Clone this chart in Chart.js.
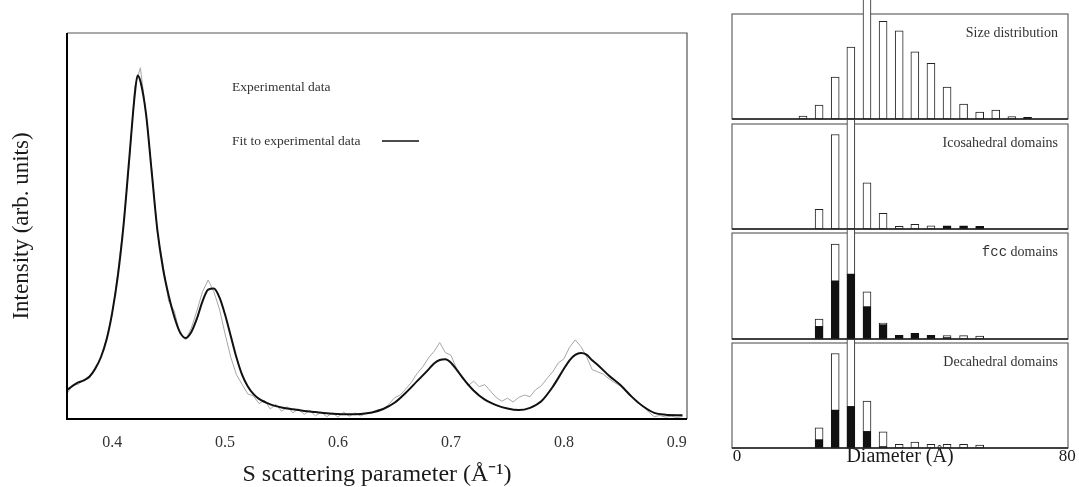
<!DOCTYPE html>
<html>
<head>
<meta charset="utf-8">
<script src="https://cdn.jsdelivr.net/npm/chart.js@4.4.0/dist/chart.umd.min.js"></script>
<style>
  body { margin: 0; background: #fff; }
  #wrap { position: relative; width: 1079px; height: 487px; }
  canvas { position: absolute; }
</style>
</head>
<body>
<div id="wrap">
  <canvas id="scatter" style="left:0;top:0" width="700" height="487"></canvas>
  <canvas id="panel0" style="left:700px;top:0" width="379" height="121"></canvas>
  <canvas id="panel1" style="left:700px;top:120px" width="379" height="111"></canvas>
  <canvas id="panel2" style="left:700px;top:230px" width="379" height="111"></canvas>
  <canvas id="panel3" style="left:700px;top:340px" width="379" height="147"></canvas>
</div>
<script>
// scattering curve (left)
const xTickValues = [0.4, 0.5, 0.6, 0.7, 0.8, 0.9];

const fitS = [0.36, 0.365, 0.37, 0.375, 0.38, 0.385, 0.39, 0.395, 0.40, 0.405,
  0.41, 0.415, 0.42, 0.4225, 0.425, 0.43, 0.435, 0.44, 0.445, 0.45,
  0.455, 0.46, 0.465, 0.47, 0.475, 0.48, 0.485, 0.49, 0.495, 0.50,
  0.505, 0.51, 0.515, 0.52, 0.525, 0.53, 0.54, 0.55, 0.56, 0.57,
  0.58, 0.59, 0.60, 0.61, 0.62, 0.63, 0.64, 0.65, 0.66, 0.67,
  0.68, 0.685, 0.69, 0.695, 0.70, 0.705, 0.71, 0.72, 0.73, 0.74,
  0.75, 0.76, 0.77, 0.78, 0.79, 0.80, 0.805, 0.81, 0.815, 0.82,
  0.825, 0.83, 0.84, 0.85, 0.86, 0.87, 0.88, 0.89, 0.90, 0.905];
const fitI = [7.5, 8.6, 9.5, 10, 11, 13, 16, 20.5, 27.5, 37,
  50, 67, 84, 89, 87.5, 79, 64, 49, 39, 32,
  26.5, 22.5, 21, 22.5, 26, 30.5, 33.5, 33.8, 31.5, 27,
  21.5, 16, 11.5, 8.5, 6.5, 5.2, 3.8, 3.0, 2.5, 2.1,
  1.8, 1.5, 1.3, 1.2, 1.3, 1.7, 2.6, 4.2, 6.8, 9.8,
  12.8, 14.4, 15.3, 15.5, 14.6, 12.8, 10.8, 7.4, 5.0, 3.6,
  2.7, 2.3, 2.9, 4.6, 8.3, 13, 15.2, 16.6, 17.1, 16.7,
  15.2, 14, 11.2, 8.8, 5.8, 3.3, 1.6, 1.1, 1.0, 1.0];

const expS = [0.360, 0.365, 0.370, 0.375, 0.380, 0.385, 0.390, 0.395, 0.400, 0.405,
  0.410, 0.415, 0.420, 0.425, 0.430, 0.435, 0.440, 0.445, 0.450, 0.455,
  0.460, 0.465, 0.470, 0.475, 0.480, 0.485, 0.490, 0.495, 0.500, 0.505,
  0.510, 0.515, 0.520, 0.525, 0.530, 0.535, 0.540, 0.545, 0.550, 0.555,
  0.560, 0.565, 0.570, 0.575, 0.580, 0.585, 0.590, 0.595, 0.600, 0.605,
  0.610, 0.615, 0.620, 0.625, 0.630, 0.635, 0.640, 0.645, 0.650, 0.655,
  0.660, 0.665, 0.670, 0.675, 0.680, 0.685, 0.690, 0.695, 0.700, 0.705,
  0.710, 0.715, 0.720, 0.725, 0.730, 0.735, 0.740, 0.745, 0.750, 0.755,
  0.760, 0.765, 0.770, 0.775, 0.780, 0.785, 0.790, 0.795, 0.800, 0.805,
  0.810, 0.815, 0.820, 0.825, 0.830, 0.835, 0.840, 0.845, 0.850, 0.855,
  0.860, 0.865, 0.870, 0.875, 0.880, 0.885, 0.890, 0.895, 0.900, 0.905];
const expI = [6.5, 8.8, 9.0, 10.2, 10.6, 13.5, 15.8, 21, 27, 38,
  50.5, 66, 86, 91, 79, 65, 48.5, 40, 30.5, 28,
  22, 20.5, 23.5, 28, 33, 36, 33, 28.5, 22, 16,
  11.5, 9, 6.5, 6, 4, 4.8, 2.6, 3.8, 2, 3.2,
  1.6, 2.6, 1.2, 2.2, 0.8, 1.8, 0.6, 1.6, 0.5, 1.8,
  0.7, 1.6, 0.8, 1.5, 1.6, 2.4, 2.6, 3.8, 5.5, 6.2,
  7.8, 9.5, 11.8, 13.5, 15.8, 17.5, 19.8, 17.2, 16.5, 13,
  11.2, 8.6, 9.8, 8.4, 8.9, 7.2, 5.6, 4.6, 5.4, 4.4,
  5.6, 6.2, 5.8, 7.6, 8.6, 10.5, 12.2, 14.5, 15.6, 18.6,
  20.5, 18.8, 16.2, 12.8, 12.2, 11.6, 10.4, 9.4, 8.6, 7.2,
  5.6, 4.2, 3.4, 1.8, 0.6, 0.9, 0.5, 0.7, 0.4, 0.6];

// size histograms (right)
const diameters = [16, 19.9, 23.8, 27.6, 31.5, 35.4, 39.3, 43.1, 47, 50.9, 54.9, 58.8, 62.7, 66.6, 70.4];
const diamTicks = [0, 80];

const sizeOpen   = [2.9, 13.3, 40, 68.6, 115, 93, 84, 64, 53, 30.5, 14.3, 6.7, 8.6, 2.2, null];
const sizeFilled = [null, null, null, null, null, null, null, null, null, null, null, null, null, null, 1.5];
const icoOpen    = [null, 18.8, 90, 115, 44, 15, 2.5, 4.5, 3, null, null, null, null, null, null];
const icoFilled  = [null, null, null, null, null, null, null, null, null, 3, 3, 2.5, null, null, null];
const fccFilled  = [null, 11.7, 54.6, 61, 30.2, 13.3, 3.5, 5.4, 3.5, 1, null, null, null, null, null];
const fccOpen    = [null, 7, 35, 54, 14.3, 1.7, null, null, null, 2.3, 3.2, 2.8, null, null, null];
const decFilled  = [null, 7.6, 35.9, 39.3, 15.5, 1, null, null, null, null, null, null, null, null, null];
const decOpen    = [null, 11.7, 54.1, 75.7, 29.3, 14.5, 3.5, 5.7, 3.5, 3.5, 3.5, 2.8, null, null, null];

const panelTitles = ['Size distribution', 'Icosahedral domains', 'fcc domains', 'Decahedral domains'];

const serif = '"Liberation Serif", "Times New Roman", serif';
const ink = '#1a1a1a';

const toPts = (xs, ys) => xs.map((x, i) => ({ x: x, y: ys[i] }));

// frame + legend for the scattering plot
const scatterDecor = {
  id: 'scatterDecor',
  afterDatasetsDraw(chart) {
    const { ctx, chartArea: a } = chart;
    ctx.save();
    ctx.strokeStyle = '#555';
    ctx.lineWidth = 1.2;
    ctx.beginPath();
    ctx.moveTo(a.left, a.top); ctx.lineTo(a.right, a.top); ctx.lineTo(a.right, a.bottom);
    ctx.stroke();
    ctx.strokeStyle = '#000';
    ctx.lineWidth = 2;
    ctx.beginPath();
    ctx.moveTo(a.left, a.top); ctx.lineTo(a.left, a.bottom); ctx.lineTo(a.right, a.bottom);
    ctx.stroke();

    ctx.fillStyle = '#333';
    ctx.font = '13.5px ' + serif;
    ctx.textBaseline = 'middle';
    ctx.textAlign = 'left';
    ctx.fillText('Experimental data', 232, 87);
    ctx.fillText('Fit to experimental data', 232, 141);
    ctx.strokeStyle = '#111';
    ctx.lineWidth = 1.6;
    ctx.beginPath();
    ctx.moveTo(382, 141); ctx.lineTo(419, 141);
    ctx.stroke();
    ctx.restore();
  }
};

new Chart(document.getElementById('scatter'), {
  type: 'line',
  data: {
    datasets: [
      {
        label: 'Experimental data',
        data: toPts(expS, expI),
        borderColor: '#a6a6a6',
        borderWidth: 1,
        pointRadius: 0,
        tension: 0,
        order: 1
      },
      {
        label: 'Fit to experimental data',
        data: toPts(fitS, fitI),
        borderColor: '#111',
        borderWidth: 2,
        pointRadius: 0,
        cubicInterpolationMode: 'monotone',
        order: 0
      }
    ]
  },
  options: {
    responsive: false,
    animation: false,
    layout: { padding: { left: 10, right: 13, top: 33, bottom: 0 } },
    plugins: { legend: { display: false }, tooltip: { enabled: false } },
    scales: {
      x: {
        type: 'linear',
        min: 0.36,
        max: 0.909,
        grid: { display: false },
        border: { display: false },
        afterBuildTicks: (s) => { s.ticks = xTickValues.map((v) => ({ value: v })); },
        afterFit: (s) => { s.height = 68; },
        ticks: {
          padding: 6,
          color: '#333',
          maxRotation: 0,
          font: { family: serif, size: 16 },
          callback: (v) => Number(v).toFixed(1)
        },
        title: {
          display: true,
          text: 'S scattering parameter (Å⁻¹)',
          color: ink,
          font: { family: serif, size: 24, lineHeight: 1 },
          padding: { top: 0, bottom: 0 }
        }
      },
      y: {
        min: 0,
        max: 100,
        grid: { display: false },
        border: { display: false },
        ticks: { display: false },
        afterFit: (s) => { s.width = 57; },
        title: {
          display: true,
          text: 'Intensity (arb. units)',
          color: ink,
          font: { family: serif, size: 23, lineHeight: 1 },
          padding: 0
        }
      }
    }
  },
  plugins: [scatterDecor]
});

// one chart per histogram panel
function panelDecor(title) {
  return {
    id: 'panelDecor',
    beforeDatasetsDraw(chart) {
      const { ctx, chartArea: a } = chart;
      ctx.save();
      ctx.strokeStyle = '#555';
      ctx.lineWidth = 1.1;
      ctx.strokeRect(a.left, a.top, a.right - a.left, a.bottom - a.top);
      ctx.restore();
    },
    afterDraw(chart) {
      const { ctx, chartArea: a } = chart;
      ctx.save();
      ctx.strokeStyle = '#222';
      ctx.lineWidth = 1.6;
      ctx.beginPath();
      ctx.moveTo(a.left, a.bottom); ctx.lineTo(a.right, a.bottom);
      ctx.stroke();
      // label, "fcc" set in typewriter face
      const parts = title.startsWith('fcc')
        ? [['fcc', '14px "Liberation Mono", monospace'], [title.slice(3), '14px ' + serif]]
        : [[title, '14px ' + serif]];
      let w = 0;
      parts.forEach(([t, f]) => { ctx.font = f; w += ctx.measureText(t).width; });
      let x = a.right - 10 - w;
      const y = a.top + 19.5;
      ctx.fillStyle = '#333';
      ctx.textBaseline = 'middle';
      ctx.textAlign = 'left';
      parts.forEach(([t, f]) => { ctx.font = f; ctx.fillText(t, x, y); x += ctx.measureText(t).width; });
      ctx.restore();
    }
  };
}

const panels = [
  { id: 'panel0', filled: sizeFilled, open: sizeOpen, pad: { left: 32, right: 11, top: 14, bottom: 2 } },
  { id: 'panel1', filled: icoFilled, open: icoOpen, pad: { left: 32, right: 11, top: 4, bottom: 2 } },
  { id: 'panel2', filled: fccFilled, open: fccOpen, pad: { left: 32, right: 11, top: 3, bottom: 2 } },
  { id: 'panel3', filled: decFilled, open: decOpen, pad: { left: 32, right: 11, top: 3, bottom: 0 } }
];

panels.forEach((p, idx) => {
  const last = idx === panels.length - 1;
  new Chart(document.getElementById(p.id), {
    type: 'bar',
    data: {
      datasets: [
        {
          label: 'filled',
          data: toPts(diameters, p.filled),
          backgroundColor: '#111',
          borderColor: '#111',
          borderWidth: 1,
          borderSkipped: false,
          barThickness: 8,
          clip: false
        },
        {
          label: 'open',
          data: toPts(diameters, p.open),
          backgroundColor: '#fff',
          borderColor: '#222',
          borderWidth: 1,
          borderSkipped: false,
          barThickness: 8,
          clip: false
        }
      ]
    },
    options: {
      responsive: false,
      animation: false,
      layout: { padding: p.pad },
      plugins: { legend: { display: false }, tooltip: { enabled: false } },
      scales: {
        x: {
          type: 'linear',
          min: -1.2,
          max: 80.2,
          offset: false,
          stacked: true,
          display: last,
          grid: { display: false },
          border: { display: false },
          afterBuildTicks: (s) => { s.ticks = diamTicks.map((v) => ({ value: v })); },
          afterFit: (s) => { s.height = last ? 39 : 0; },
          ticks: {
            padding: -10,
            color: ink,
            maxRotation: 0,
            font: { family: serif, size: 17 },
            callback: (v) => String(v)
          },
          title: {
            display: true,
            text: 'Diameter (Å)',
            color: ink,
            font: { family: serif, size: 20, lineHeight: 1 },
            padding: { top: 0, bottom: 20 }
          }
        },
        y: {
          min: 0,
          max: 100,
          stacked: true,
          display: false
        }
      }
    },
    plugins: [panelDecor(panelTitles[idx])]
  });
});
</script>
</body>
</html>
